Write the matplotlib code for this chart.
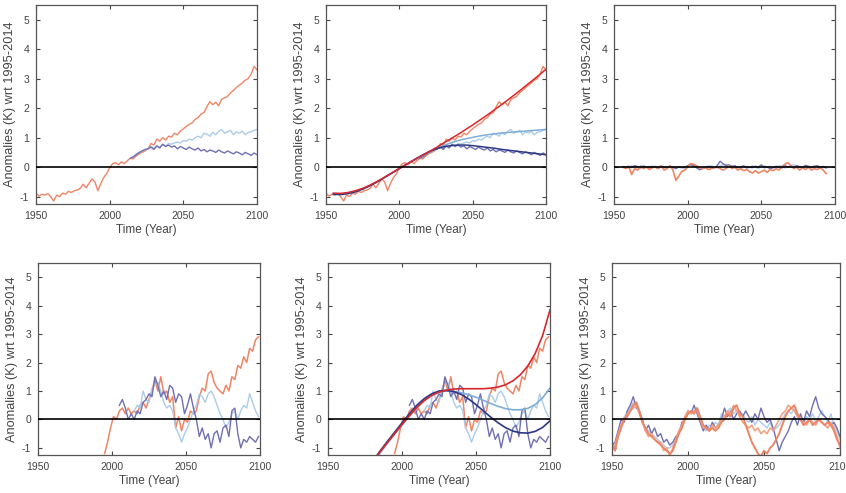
import numpy as np
import matplotlib
matplotlib.use("Agg")
import matplotlib.pyplot as plt

plt.rcParams['font.family'] = ['Liberation Sans', 'DejaVu Sans']
plt.rcParams['axes.unicode_minus'] = False

# ---------------- data ----------------
# top row: raw anomalies, every 2 years
top_red_start = 1950
top_red = [-0.88, -0.98, -0.92, -0.95, -0.90, -1.00, -1.15, -0.95, -1.00, -0.88,
           -0.92, -0.82, -0.86, -0.80, -0.78, -0.72, -0.58, -0.70, -0.55, -0.40,
           -0.50, -0.80, -0.55, -0.35, -0.22, -0.02, 0.12, 0.15, 0.08, 0.18,
           0.12, 0.22, 0.30, 0.28, 0.38, 0.45, 0.50, 0.55, 0.62, 0.80,
           0.75, 0.95, 0.88, 1.00, 0.92, 1.05, 1.02, 1.15, 1.10, 1.22,
           1.30, 1.38, 1.45, 1.50, 1.62, 1.68, 1.80, 1.85, 2.05, 2.22,
           2.12, 2.20, 2.08, 2.30, 2.35, 2.40, 2.52, 2.60, 2.70, 2.78,
           2.85, 2.95, 3.00, 3.15, 3.42, 3.30]
top_blue_start = 2014
top_lblue = [0.30, 0.35, 0.45, 0.48, 0.55, 0.58, 0.62, 0.70, 0.65, 0.72,
             0.68, 0.75, 0.72, 0.80, 0.78, 0.82, 0.85, 0.82, 0.90, 0.88,
             0.95, 0.92, 1.00, 1.05, 1.00, 1.15, 1.12, 1.05, 1.18, 1.10,
             1.22, 1.28, 1.15, 1.20, 1.25, 1.10, 1.20, 1.15, 1.22, 1.10,
             1.18, 1.20, 1.25, 1.28]
top_dblue = [0.30, 0.35, 0.42, 0.50, 0.55, 0.60, 0.62, 0.68, 0.60, 0.72,
             0.65, 0.78, 0.70, 0.75, 0.68, 0.72, 0.62, 0.70, 0.65, 0.60,
             0.68, 0.62, 0.58, 0.65, 0.55, 0.60, 0.52, 0.58, 0.55, 0.50,
             0.58, 0.52, 0.48, 0.55, 0.50, 0.45, 0.52, 0.48, 0.42, 0.50,
             0.45, 0.40, 0.48, 0.42]

# top row: fitted curves, every 5 years from 1955
fit_top_start = 1955
fit_top_red = [-0.88, -0.89, -0.86, -0.80, -0.72, -0.61, -0.48, -0.34, -0.19, -0.04,
               0.10, 0.24, 0.38, 0.52, 0.66, 0.81, 0.96, 1.11, 1.27, 1.43,
               1.60, 1.77, 1.95, 2.13, 2.32, 2.51, 2.71, 2.91, 3.11, 3.32]
fit_top_lblue = [-0.90, -0.91, -0.88, -0.82, -0.73, -0.62, -0.49, -0.35, -0.20, -0.05,
                 0.09, 0.23, 0.37, 0.50, 0.62, 0.73, 0.82, 0.90, 0.96, 1.01,
                 1.06, 1.10, 1.13, 1.16, 1.18, 1.20, 1.22, 1.24, 1.26, 1.28]
fit_top_dblue = [-0.92, -0.93, -0.90, -0.84, -0.75, -0.63, -0.50, -0.35, -0.20, -0.05,
                 0.10, 0.25, 0.39, 0.52, 0.62, 0.69, 0.73, 0.75, 0.75, 0.73,
                 0.70, 0.67, 0.64, 0.60, 0.57, 0.54, 0.51, 0.48, 0.45, 0.42]

# top row: residuals, every 2 years from 1956
res_top_start = 1956
res_top_red = [0.00, -0.05, 0.02, -0.25, -0.05, -0.10, 0.02, -0.05, 0.00, -0.08,
               -0.02, 0.00, -0.05, 0.05, -0.10, -0.05, 0.05, -0.10, -0.45, -0.30,
               -0.15, -0.10, 0.00, 0.12, 0.10, 0.05, -0.02, -0.05, -0.02, -0.08,
               -0.05, -0.02, 0.00, -0.05, -0.10, -0.05, 0.05, -0.05, 0.00, -0.10,
               -0.05, -0.12, -0.08, -0.15, -0.20, -0.12, -0.20, -0.15, -0.10, -0.18,
               -0.08, -0.12, -0.05, -0.10, 0.02, 0.10, 0.15, 0.05, -0.05, 0.00,
               -0.10, -0.02, -0.08, 0.00, -0.10, -0.05, -0.08, -0.02, -0.10, -0.22]
res_top_lblue = [0.00, 0.02, -0.02, 0.05, 0.00, -0.03, 0.05, 0.02, 0.00, 0.03,
                 -0.02, 0.04, 0.00, 0.05, -0.03, 0.02, 0.00, -0.05, 0.00, 0.02,
                 0.00, -0.05, 0.05, 0.10, 0.08, 0.00, -0.10, -0.05, -0.03, 0.00,
                 0.05, 0.00, -0.02, 0.05, 0.08, 0.10, 0.00, 0.05, -0.03, 0.02,
                 -0.05, 0.00, 0.03, -0.02, 0.05, 0.00, -0.05, 0.02, 0.05, 0.00,
                 0.03, -0.02, 0.00, 0.05, 0.02, -0.03, 0.00, 0.05, 0.08, 0.02,
                 0.00, -0.03, 0.05, 0.02, 0.00, 0.05, 0.02, -0.02, 0.03, 0.00]
res_top_dblue = [0.02, 0.00, 0.03, -0.02, 0.05, 0.02, -0.03, 0.04, 0.00, -0.02,
                 0.03, 0.00, -0.04, 0.02, 0.00, -0.03, 0.02, 0.00, -0.05, 0.00,
                 -0.02, 0.00, 0.05, 0.08, 0.05, -0.02, -0.08, -0.05, 0.00, 0.03,
                 0.00, -0.03, 0.05, 0.20, 0.12, 0.05, 0.08, 0.02, 0.05, -0.02,
                 0.00, 0.05, -0.03, 0.00, -0.02, 0.03, 0.00, 0.08, -0.02, 0.00,
                 -0.05, -0.02, 0.03, 0.00, -0.03, 0.05, 0.00, 0.02, -0.02, 0.05,
                 0.02, 0.00, 0.06, 0.03, -0.02, 0.02, 0.05, 0.00, 0.02, -0.03]

# bottom row: raw anomalies, every 2 years (odd years)
bot_red_start = 1995
bot_red = [-1.2, -0.8, -0.3, 0.1, 0.0, 0.3, 0.4, 0.2, 0.4, 0.2,
           0.3, 0.2, 0.5, 0.6, 0.4, 0.7, 1.0, 1.4, 1.0, 1.5,
           0.9, 1.0, 0.6, 0.8, -0.3, 0.1, -0.4, 0.0, -0.1, 0.3,
           0.2, 0.3, 0.8, 1.1, 1.0, 1.6, 1.7, 1.3, 1.1, 1.0,
           0.9, 1.2, 1.0, 1.5, 1.4, 1.9, 1.8, 2.2, 2.0, 2.5,
           2.4, 2.8, 2.9]
bot_lblue_start = 2015
bot_lblue = [0.3, 0.5, 0.4, 1.0, 0.7, 0.6, 1.1, 1.2, 1.3, 1.0,
             0.6, 0.4, 0.5, 0.3, -0.3, -0.5, -0.8, -0.5, -0.3, 0.0,
             0.3, 0.5, 0.9, 0.8, 0.6, 0.9, 1.0, 0.8, 0.5, 0.2,
             0.0, -0.3, -0.1, 0.2, 0.3, 0.0, 0.3, 0.5, 0.4, 0.9,
             0.6, 0.3, 0.1]
bot_dblue_start = 2005
bot_dblue = [0.5, 0.7, 0.4, 0.0, 0.2, 0.0, 0.3, 0.2, 0.6, 0.7,
             0.9, 0.8, 1.5, 1.2, 0.8, 1.0, 0.7, 1.2, 1.1, 0.6,
             0.9, 0.8, 0.2, 0.5, 0.9, 0.4, 0.0, -0.6, -0.3, -0.7,
             -0.5, -1.0, -0.5, -0.4, -0.8, -0.3, -0.2, -0.6, 0.3, 0.4,
             -0.5, -1.0, -0.7, -0.8, -0.6, -0.7, -0.8, -0.6]

# bottom row: fitted curves, every 5 years from 1980
fit_bot_start = 1980
fit_bot_red = [-1.50, -1.15, -0.82, -0.50, -0.18, 0.13, 0.42, 0.66, 0.84, 0.96,
               1.03, 1.07, 1.08, 1.08, 1.08, 1.08, 1.10, 1.14, 1.22, 1.36,
               1.57, 1.88, 2.32, 2.95, 3.85]
fit_bot_lblue = [-1.55, -1.20, -0.85, -0.52, -0.20, 0.12, 0.42, 0.67, 0.86, 0.97,
                 1.00, 0.98, 0.94, 0.87, 0.78, 0.67, 0.56, 0.46, 0.38, 0.34,
                 0.34, 0.39, 0.52, 0.76, 1.10]
fit_bot_dblue = [-1.50, -1.12, -0.78, -0.45, -0.12, 0.20, 0.50, 0.73, 0.90, 1.00,
                 1.02, 0.98, 0.88, 0.72, 0.52, 0.30, 0.08, -0.12, -0.29, -0.41,
                 -0.47, -0.48, -0.42, -0.28, -0.05]

# bottom row: residuals, every 2 years from 1950
res_bot_start = 1950
res_bot_red = [-0.9, -1.1, -0.6, -0.3, 0.0, 0.1, 0.3, 0.5, 0.6, 0.3,
               -0.1, -0.3, -0.5, -0.6, -0.7, -0.8, -0.9, -1.0, -1.1, -1.2,
               -1.1, -0.8, -0.5, -0.3, 0.0, 0.2, 0.3, 0.2, 0.4, 0.1,
               -0.2, -0.3, -0.4, -0.3, -0.4, -0.3, -0.1, 0.0, 0.2, 0.1,
               0.4, 0.5, 0.2, 0.1, -0.2, -0.5, -0.8, -1.0, -1.2, -1.3,
               -1.1, -1.2, -1.0, -0.9, -0.7, -0.5, -0.2, 0.1, 0.3, 0.4,
               0.5, 0.2, 0.0, -0.2, -0.1, 0.0, -0.2, -0.1, 0.0, -0.1,
               -0.2, -0.1, -0.2, -0.4, -0.7, -0.9]
res_bot_salmon = [-1.0, -0.9, -0.5, -0.2, 0.0, 0.2, 0.3, 0.4, 0.5, 0.2,
                  -0.1, -0.4, -0.6, -0.5, -0.7, -0.8, -0.8, -1.1, -1.0, -1.3,
                  -1.0, -0.7, -0.4, -0.2, 0.1, 0.3, 0.2, 0.3, 0.3, 0.0,
                  -0.3, -0.3, -0.4, -0.2, -0.3, -0.2, 0.0, 0.1, 0.3, 0.2,
                  0.5, 0.3, 0.1, -0.1, -0.2, -0.3, -0.2, -0.4, -0.3, -0.5,
                  -0.4, -0.5, -0.3, -0.4, -0.2, 0.0, 0.2, 0.3, 0.5, 0.4,
                  0.3, 0.1, 0.0, -0.1, -0.2, 0.0, -0.1, -0.2, 0.0, -0.1,
                  -0.2, -0.3, -0.1, -0.3, -0.6, -1.0]
res_bot_lblue = [-0.8, -1.0, -0.5, -0.2, 0.1, 0.2, 0.4, 0.6, 0.5, 0.2,
                 -0.1, -0.3, -0.4, -0.5, -0.6, -0.7, -0.8, -0.9, -1.0, -1.0,
                 -0.9, -0.7, -0.4, -0.2, 0.1, 0.3, 0.2, 0.3, 0.4, 0.0,
                 -0.3, -0.4, -0.2, -0.3, -0.1, -0.2, 0.2, 0.1, 0.3, 0.4,
                 0.2, 0.3, 0.1, 0.2, 0.0, -0.1, 0.1, -0.2, 0.0, -0.1,
                 -0.2, -0.3, -0.1, -0.4, -0.3, -0.2, 0.0, 0.2, 0.3, 0.2,
                 0.4, 0.1, 0.0, -0.2, 0.1, 0.0, 0.2, -0.1, 0.1, 0.3,
                 0.1, -0.1, 0.2, -0.2, -0.4, -0.7]
res_bot_dblue = [-0.9, -0.8, -0.4, 0.0, -0.1, 0.3, 0.5, 0.8, 0.4, 0.3,
                 0.0, -0.4, -0.2, -0.5, -0.3, -0.6, -0.5, -0.8, -0.7, -0.9,
                 -0.8, -0.6, -0.5, -0.1, 0.0, 0.3, 0.2, 0.5, 0.2, -0.1,
                 -0.4, -0.2, -0.4, -0.1, -0.3, -0.2, 0.0, 0.4, 0.1, 0.3,
                 0.0, 0.2, 0.3, 0.1, 0.3, 0.1, -0.1, 0.2, 0.0, 0.4,
                 0.1, -0.1, 0.0, -0.3, -0.7, -1.1, -0.8, -0.6, -0.4, -0.1,
                 0.1, -0.2, 0.2, -0.1, 0.3, 0.1, 0.5, 0.8, 0.4, 0.2,
                 0.1, 0.0, -0.2, -0.1, -0.3, -0.6]

# ---------------- style ----------------
c_red = '#ee8565'
c_salmon = '#f3a283'
c_lblue = '#adcce8'
c_dblue = '#7070b2'
f_red = '#d8282c'
f_lblue = '#7eaed8'
f_dblue = '#2c3886'
grey = '#444444'


def yrs(start, vals, step):
    return start + step * np.arange(len(vals))


def style(ax):
    ax.set_xlim(1950, 2100)
    ax.set_ylim(-1.25, 5.5)
    ax.set_xticks([1950, 2000, 2050, 2100])
    ax.set_yticks([-1, 0, 1, 2, 3, 4, 5])
    ax.tick_params(direction='in', length=3, width=0.8, top=True, right=True,
                   labelsize=7.5, colors=grey, labelcolor=grey, pad=5)
    for s in ax.spines.values():
        s.set_color('#555555')
        s.set_linewidth(0.9)
    ax.axhline(0, color='black', lw=1.2, zorder=5)
    ax.set_xlabel('Time (Year)', fontsize=8.5, color=grey, labelpad=2)
    ax.set_ylabel('Anomalies (K) wrt 1995-2014', fontsize=9.2, color=grey, labelpad=3)


W, H = 846, 493
fig = plt.figure(figsize=(W / 100, H / 100), dpi=100)


def add(px_left, px_right, px_top, px_bot):
    return fig.add_axes([px_left / W, 1 - px_bot / H,
                         (px_right - px_left) / W, (px_bot - px_top) / H])


ax1 = add(36, 257, 5, 204)
ax2 = add(326, 546, 5, 204)
ax3 = add(614, 835, 5, 204)
ax4 = add(38, 260, 263, 455)
ax5 = add(328, 550, 263, 455)
ax6 = add(612, 840, 263, 455)

# panel 1 and 2 raw
for ax in (ax1, ax2):
    ax.plot(yrs(top_red_start, top_red, 2), top_red, color=c_red, lw=1.0)
    ax.plot(yrs(top_blue_start, top_lblue, 2), top_lblue, color=c_lblue, lw=1.0)
    ax.plot(yrs(top_blue_start, top_dblue, 2), top_dblue, color=c_dblue, lw=1.0)

ax2.plot(yrs(fit_top_start, fit_top_lblue, 5), fit_top_lblue, color=f_lblue, lw=1.1)
ax2.plot(yrs(fit_top_start, fit_top_dblue, 5), fit_top_dblue, color=f_dblue, lw=1.1)
ax2.plot(yrs(fit_top_start, fit_top_red, 5), fit_top_red, color=f_red, lw=1.1)

# panel 3 residuals
ax3.plot(yrs(res_top_start, res_top_lblue, 2), res_top_lblue, color=c_lblue, lw=1.0)
ax3.plot(yrs(res_top_start, res_top_dblue, 2), res_top_dblue, color=c_dblue, lw=1.0)
ax3.plot(yrs(res_top_start, res_top_red, 2), res_top_red, color=c_red, lw=1.2)

# panel 4 and 5 raw
for ax in (ax4, ax5):
    ax.plot(yrs(bot_red_start, bot_red, 2), bot_red, color=c_red, lw=1.1)
    ax.plot(yrs(bot_lblue_start, bot_lblue, 2), bot_lblue, color=c_lblue, lw=1.0)
    ax.plot(yrs(bot_dblue_start, bot_dblue, 2), bot_dblue, color=c_dblue, lw=1.0)

ax5.plot(yrs(fit_bot_start, fit_bot_lblue, 5), fit_bot_lblue, color=f_lblue, lw=1.2)
ax5.plot(yrs(fit_bot_start, fit_bot_dblue, 5), fit_bot_dblue, color=f_dblue, lw=1.2)
ax5.plot(yrs(fit_bot_start, fit_bot_red, 5), fit_bot_red, color=f_red, lw=1.2)

# panel 6 residuals
ax6.plot(yrs(res_bot_start, res_bot_lblue, 2), res_bot_lblue, color=c_lblue, lw=1.0)
ax6.plot(yrs(res_bot_start, res_bot_dblue, 2), res_bot_dblue, color=c_dblue, lw=1.0)
ax6.plot(yrs(res_bot_start, res_bot_salmon, 2), res_bot_salmon, color=c_salmon, lw=1.2)
ax6.plot(yrs(res_bot_start, res_bot_red, 2), res_bot_red, color=c_red, lw=1.4)

for ax in (ax1, ax2, ax3, ax4, ax5, ax6):
    style(ax)

fig.savefig('out.png', dpi=100)
